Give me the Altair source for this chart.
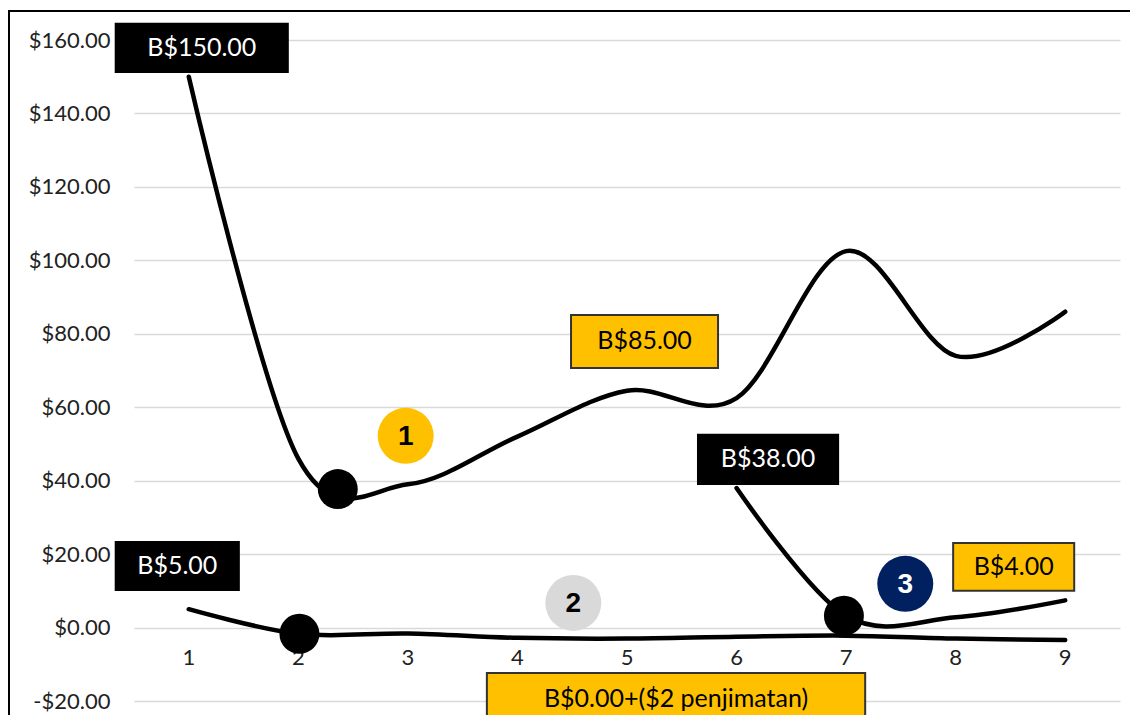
import altair as alt
import pandas as pd

# ---- data ----
x_ticks = [1, 2, 3, 4, 5, 6, 7, 8, 9]
y_ticks = [-20, 0, 20, 40, 60, 80, 100, 120, 140, 160]

series_a = [150, 46, 39, 52, 64.5, 62.5, 102.5, 74, 86]
series_b = [5, -1.7, -1.6, -2.8, -3.0, -2.5, -2.2, -3.0, -3.4]
series_c_x = [6, 7, 8, 9]
series_c = [38, 3.2, 2.8, 7.4]

marker_x = [2.36, 2.01, 6.98]
marker_y = [37.7, -1.7, 3.2]

badge_text = ["1", "2", "3"]
badge_x = [2.98, 4.51, 7.54]
badge_y = [52.2, 6.7, 11.9]
badge_fill = ["#FFC000", "#D9D9D9", "#002060"]
badge_color = ["#000000", "#000000", "#FFFFFF"]

label_text = ["B$150.00", "B$5.00", "B$85.00", "B$38.00", "B$4.00", "B$0.00+($2 penjimatan)"]
label_x0 = [0.333, 0.333, 4.489, 5.648, 7.977, 3.721]
label_x1 = [1.904, 1.457, 5.831, 6.927, 9.082, 7.174]
label_y0 = [151.3, 10.2, 70.7, 39.1, 10.0, -26.5]
label_y1 = [164.4, 23.3, 85.1, 52.5, 23.0, -12.4]
label_fill = ["#000000", "#000000", "#FFC000", "#000000", "#FFC000", "#FFC000"]
label_stroke = ["#000000", "#000000", "#333333", "#000000", "#333333", "#333333"]
label_color = ["#FFFFFF", "#FFFFFF", "#000000", "#FFFFFF", "#000000", "#000000"]

# ---- tables ----
lines_df = pd.concat([
    pd.DataFrame({"x": x_ticks, "y": series_a, "s": "a"}),
    pd.DataFrame({"x": x_ticks, "y": series_b, "s": "b"}),
    pd.DataFrame({"x": series_c_x, "y": series_c, "s": "c"}),
], ignore_index=True)
markers_df = pd.DataFrame({"x": marker_x, "y": marker_y})
badges_df = pd.DataFrame({"x": badge_x, "y": badge_y, "t": badge_text,
                          "fill": badge_fill, "color": badge_color})
labels_df = pd.DataFrame({"x": label_x0, "x2": label_x1, "y": label_y0, "y2": label_y1,
                          "t": label_text, "fill": label_fill, "stroke": label_stroke,
                          "color": label_color})
labels_df["xc"] = (labels_df["x"] + labels_df["x2"]) / 2
labels_df["yc"] = (labels_df["y"] + labels_df["y2"]) / 2
ticks_df = pd.DataFrame({"x": x_ticks, "y": [0] * len(x_ticks)})
frame_df = pd.DataFrame({"k": [0]})

xscale = alt.Scale(domain=[0.5, 9.5], nice=False, zero=False)
yscale = alt.Scale(domain=[-20, 160], nice=False, zero=False)
yaxis = alt.Axis(values=y_ticks, grid=True, gridColor="#d9d9d9", gridWidth=1.5,
                 domain=False, ticks=False, labelPadding=24, labelFont="Lato",
                 labelFontSize=22, labelColor="#222222", title=None,
                 labelExpr="datum.value < 0 ? '-$' + format(-datum.value, '.2f') : '$' + format(datum.value, '.2f')")


def X(f="x"):
    return alt.X(f"{f}:Q", scale=xscale, axis=None, title=None)


def Y(f="y"):
    return alt.Y(f"{f}:Q", scale=yscale, axis=yaxis, title=None)


frame = alt.Chart(frame_df).mark_rect(fillOpacity=0, stroke="black", strokeWidth=2).encode(
    x=alt.value(-125), x2=alt.value(1010), y=alt.value(-29), y2=alt.value(690))

lines = alt.Chart(lines_df).mark_line(color="black", strokeWidth=4.5, interpolate="cardinal",
                                      strokeCap="round").encode(
    x=X(), y=Y(), detail="s:N")

markers = alt.Chart(markers_df).mark_circle(size=1600, color="black", opacity=1).encode(x=X(), y=Y())

badges = alt.Chart(badges_df).mark_circle(size=3136, opacity=1).encode(
    x=X(), y=Y(), color=alt.Color("fill:N", scale=None))
badge_txt = alt.Chart(badges_df).mark_text(font="Liberation Sans", fontWeight="bold", fontSize=28,
                                           baseline="middle", align="center", dy=1).encode(
    x=X(), y=Y(), text="t:N", color=alt.Color("color:N", scale=None))

boxes = alt.Chart(labels_df).mark_rect(strokeWidth=2).encode(
    x=X(), x2="x2:Q", y=Y(), y2="y2:Q",
    fill=alt.Fill("fill:N", scale=None), stroke=alt.Stroke("stroke:N", scale=None))
box_txt = alt.Chart(labels_df).mark_text(font="Lato", fontSize=25, baseline="middle", align="center").encode(
    x=X("xc"), y=Y("yc"), text="t:N", color=alt.Color("color:N", scale=None))

xlabels = alt.Chart(ticks_df).mark_text(font="Lato", fontSize=22, color="#222222", dy=30,
                                        baseline="middle", align="center").encode(
    x=X(), y=Y(), text=alt.Text("x:Q", format="d"))

chart = alt.layer(frame, xlabels, lines, markers, badges, badge_txt, boxes, box_txt).properties(
    width=986, height=661,
    autosize=alt.AutoSizeParams(type="none"),
    padding={"left": 126, "top": 32, "right": 10, "bottom": 14},
).configure_view(stroke=None)

chart.save("out.html", embed_options={"renderer": "svg", "actions": False})
